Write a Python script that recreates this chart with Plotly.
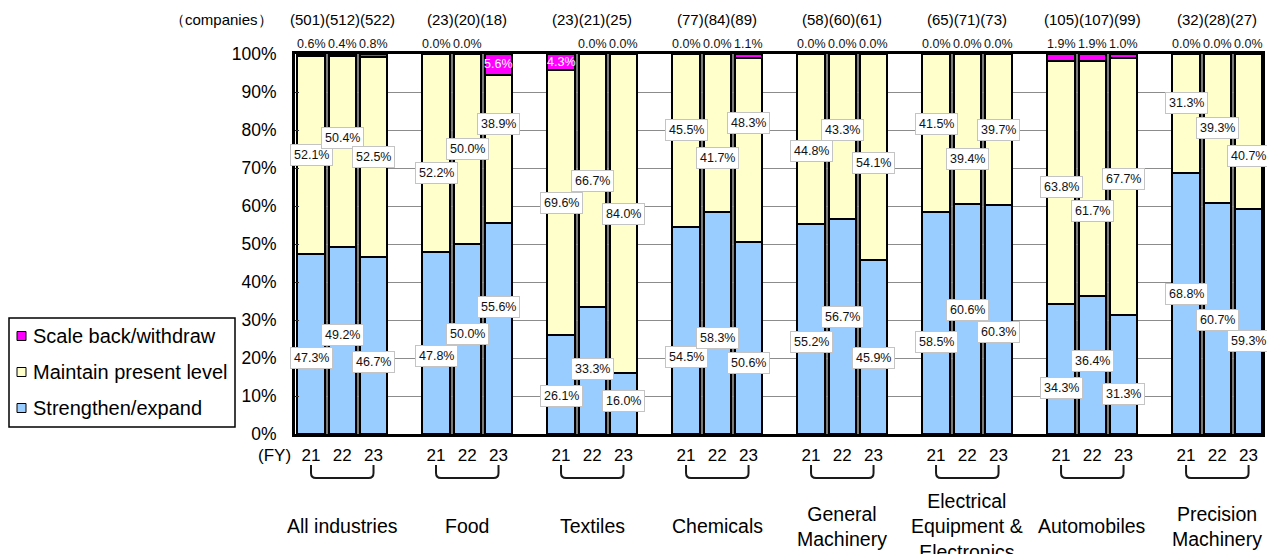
import plotly.graph_objects as go

# ---------------- data ----------------
groups = ["All industries", "Food", "Textiles", "Chemicals",
          "General<br>Machinery", "Electrical<br>Equipment &<br>Electronics",
          "Automobiles", "Precision<br>Machinery"]
years = ["21", "22", "23"]
companies = [[501, 512, 522], [23, 20, 18], [23, 21, 25], [77, 84, 89],
             [58, 60, 61], [65, 71, 73], [105, 107, 99], [32, 28, 27]]
strengthen = [[47.3, 49.2, 46.7], [47.8, 50.0, 55.6], [26.1, 33.3, 16.0], [54.5, 58.3, 50.6],
              [55.2, 56.7, 45.9], [58.5, 60.6, 60.3], [34.3, 36.4, 31.3], [68.8, 60.7, 59.3]]
maintain = [[52.1, 50.4, 52.5], [52.2, 50.0, 38.9], [69.6, 66.7, 84.0], [45.5, 41.7, 48.3],
            [44.8, 43.3, 54.1], [41.5, 39.4, 39.7], [63.8, 61.7, 67.7], [31.3, 39.3, 40.7]]
scale_back = [[0.6, 0.4, 0.8], [0.0, 0.0, 5.6], [4.3, 0.0, 0.0], [0.0, 0.0, 1.1],
              [0.0, 0.0, 0.0], [0.0, 0.0, 0.0], [1.9, 1.9, 1.0], [0.0, 0.0, 0.0]]
series_names = ["Strengthen/expand", "Maintain present level", "Scale back/withdraw"]

# ---------------- style / layout ----------------
FONT = "Liberation Sans, Arial, sans-serif"
SLOTS = 4          # 3 bars + one empty slot per group
BAR_W = 0.88
COLORS = {"Strengthen/expand": "#99CCFF",
          "Maintain present level": "#FFFFCC",
          "Scale back/withdraw": "#FF00FF"}
# manual label nudges (percentage points), as in the original chart
STRENGTHEN_NUDGE = [[-3.65, 1.45, -4.4], [-3.4, 1.4, 5.6], [-3.0, 0.5, 0.8], [-7.05, -3.85, -6.5],
                    [-3.4, 2.4, -2.95], [-5.05, 2.3, -3.35], [-4.95, 0.9, -5.05], [2.5, -0.25, -5.15]]
MAINTAIN_NUDGE = [[0, 3.5, 0], [-5.2, 0, 6.5], [0, 0, 0], [2.75, -6.45, 7.1],
                  [-3.2, 1.65, -1.65], [2.35, -8.0, -0.15], [-1.2, -8.45, 1.95], [2.75, 0.15, -6.55]]

W, H = 1267, 554
ML, MR, MT, MB = 295, 5, 54, 120
PLOT_H = H - MT - MB
PLOT_W = W - ML - MR


def py(px):
    """pixel row -> paper y"""
    return (H - MB - px) / PLOT_H


def pxx(px):
    """pixel column -> paper x"""
    return (px - ML) / PLOT_W


n = len(groups)
xs = [g * SLOTS + j for g in range(n) for j in range(3)]


def flat(a):
    return [v for row in a for v in row]


fig = go.Figure()
for name, vals in zip(series_names, [strengthen, maintain, scale_back]):
    fig.add_trace(go.Bar(
        x=xs, y=flat(vals), name=name, width=BAR_W, showlegend=False,
        marker=dict(color=COLORS[name], line=dict(color="black", width=2)),
        hoverinfo="skip"))

annotations = []
shapes = []
for g in range(n):
    # grey strip behind bars of a group (visible in the gaps between bars)
    shapes.append(dict(type="rect", xref="x", yref="y", layer="below",
                       x0=g * SLOTS - BAR_W / 2, x1=g * SLOTS + 2 + BAR_W / 2, y0=0, y1=100,
                       fillcolor="#7a7a7a", line=dict(width=0)))
    for j in range(3):
        x = g * SLOTS + j
        s, m, b = strengthen[g][j], maintain[g][j], scale_back[g][j]
        for val, mid, nud in [(s, s / 2, STRENGTHEN_NUDGE[g][j]),
                              (m, s + m / 2, MAINTAIN_NUDGE[g][j])]:
            annotations.append(dict(
                x=x, y=mid + nud, xref="x", yref="y", text=f"{val:.1f}%", showarrow=False,
                font=dict(family=FONT, size=12.5, color="#111111"),
                bgcolor="white", bordercolor="#c4c4c4", borderwidth=1, borderpad=3))
        if b >= 3:
            annotations.append(dict(
                x=x, y=s + m + b / 2, xref="x", yref="y", text=f"{b:.1f}%", showarrow=False,
                font=dict(family=FONT, size=12.5, color="white")))
        else:
            annotations.append(dict(
                x=x, y=100, xref="x", yref="y", yanchor="bottom", yshift=1,
                text=f"{b:.1f}%", showarrow=False,
                font=dict(family=FONT, size=12.5, color="#111111")))
    # company counts
    annotations.append(dict(
        x=g * SLOTS + 1, y=py(20), xref="x", yref="paper", yanchor="middle",
        text="".join(f"({c})" for c in companies[g]), showarrow=False,
        font=dict(family=FONT, size=15, color="black")))
    # category names
    annotations.append(dict(
        x=g * SLOTS + 1, y=py(526), xref="x", yref="paper", yanchor="middle",
        text=groups[g], showarrow=False,
        font=dict(family=FONT, size=19.5, color="black")))
    # bracket under the years
    x0, x2 = g * SLOTS, g * SLOTS + 2
    yt, yb = py(465), py(478)
    rx, ry = 0.16, 5 / PLOT_H
    shapes.append(dict(
        type="path", xref="x", yref="paper",
        path=(f"M {x0},{yt} L {x0},{yb + ry} Q {x0},{yb} {x0 + rx},{yb} "
              f"L {x2 - rx},{yb} Q {x2},{yb} {x2},{yb + ry} L {x2},{yt}"),
        line=dict(color="#1a1a1a", width=2)))

annotations.append(dict(
    x=pxx(275), y=py(20), xref="paper", yref="paper",
    xanchor="right", yanchor="middle", text="（companies）", showarrow=False,
    font=dict(family=FONT, size=15, color="black")))
annotations.append(dict(
    x=pxx(293), y=py(455), xref="paper", yref="paper",
    xanchor="right", yanchor="middle", text="(FY)", showarrow=False,
    font=dict(family=FONT, size=17, color="black")))

# ---------------- legend (drawn as a framed box left of the axis) ----------------
shapes.append(dict(type="rect", xref="paper", yref="paper",
                   x0=pxx(9), x1=pxx(235), y0=py(427), y1=py(318),
                   fillcolor="white", line=dict(color="black", width=1.5)))
for k, name in enumerate(reversed(series_names)):
    cy = 336 + 36 * k
    shapes.append(dict(type="rect", xref="paper", yref="paper",
                       x0=pxx(17), x1=pxx(26), y0=py(cy + 4.5), y1=py(cy - 4.5),
                       fillcolor=COLORS[name], line=dict(color="black", width=1)))
    annotations.append(dict(
        x=pxx(31), y=py(cy), xref="paper", yref="paper", xanchor="left", yanchor="middle",
        text=name, showarrow=False, font=dict(family=FONT, size=20, color="black")))

fig.update_layout(
    width=W, height=H, barmode="stack", showlegend=False,
    margin=dict(l=ML, r=MR, t=MT, b=MB, pad=0, autoexpand=False),
    plot_bgcolor="white", paper_bgcolor="white",
    font=dict(family=FONT, color="black"),
    annotations=annotations, shapes=shapes,
    xaxis=dict(
        range=[-0.512, 30.43], tickmode="array", tickvals=xs, ticktext=years * n,
        showgrid=False, zeroline=False, showline=True, linecolor="black", linewidth=2.5,
        mirror=True, ticks="", ticklabelstandoff=4,
        tickfont=dict(family=FONT, size=17, color="black")),
    yaxis=dict(
        range=[0, 100], tickmode="array", tickvals=list(range(0, 101, 10)),
        ticktext=[f"{v}%" for v in range(0, 101, 10)],
        showgrid=True, gridcolor="#8c8c8c", gridwidth=1, zeroline=False,
        showline=True, linecolor="black", linewidth=3, mirror=True,
        ticks="inside", ticklen=4, tickcolor="#333333", ticklabelstandoff=12,
        tickfont=dict(family=FONT, size=17.5, color="black")),
)

# remove the browser's default 8px page margin so the figure fills the window exactly
fig.write_html("out.html", config={"displayModeBar": False},
               post_script="document.body.style.margin='0px';document.body.style.overflow='hidden';")
